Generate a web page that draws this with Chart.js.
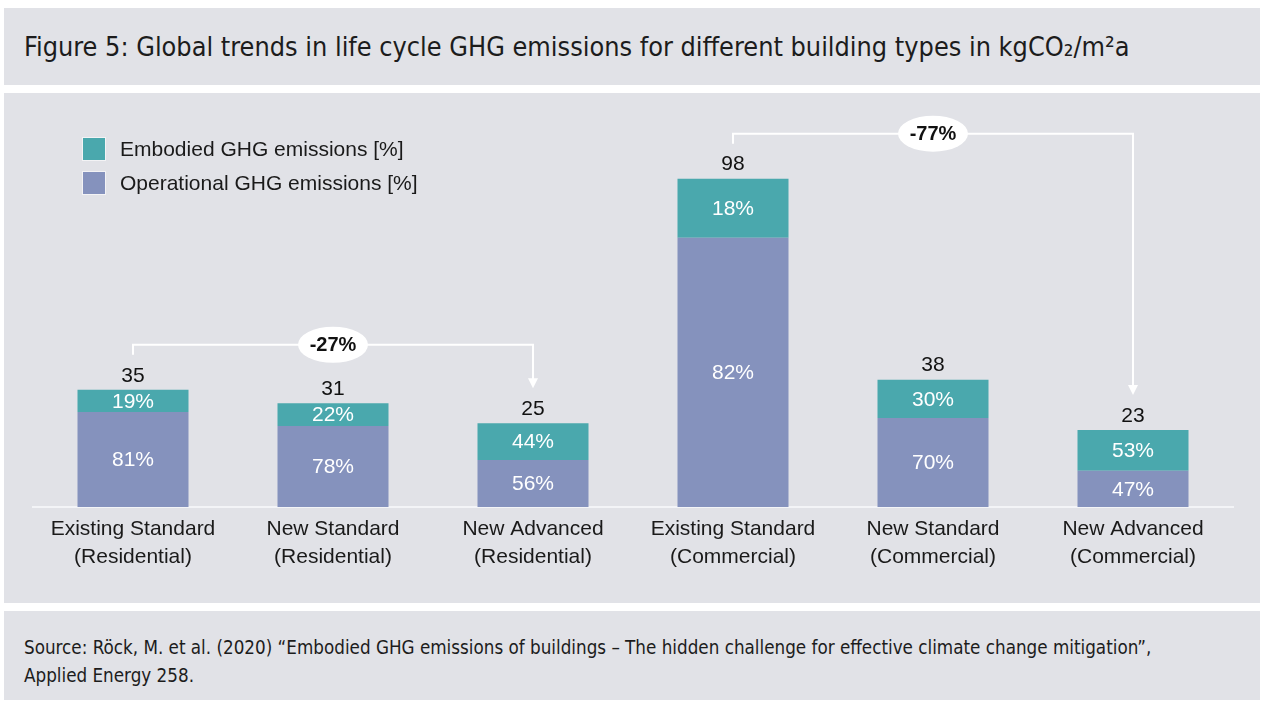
<!DOCTYPE html>
<html>
<head>
<meta charset="utf-8">
<script src="https://cdn.jsdelivr.net/npm/chart.js@4.4.1/dist/chart.umd.min.js"></script>
<style>
  html, body { margin: 0; padding: 0; background: #ffffff; }
  body { width: 1264px; height: 701px; overflow: hidden; position: relative; }
  .box { position: absolute; left: 4px; width: 1256px; background: #e1e2e7; }
  #titleBox { top: 8px; height: 77px; }
  #panel { top: 93px; height: 510px; }
  #sourceBox { top: 611px; height: 89px; }
  .cond { font-family: "Liberation Sans Narrow", "DejaVu Sans Condensed", "Liberation Sans", sans-serif; color: #1c1c1c; white-space: nowrap; }
  #title { position: absolute; left: 20px; top: 23px; margin: 0; font-weight: normal; font-size: 27px; line-height: 32px; }
  #source { position: absolute; left: 20px; top: 23px; font-size: 18px; line-height: 28px; }
  #chart { position: absolute; left: 0; top: 0; }
</style>
</head>
<body>
<div class="box" id="titleBox"><h1 id="title" class="cond">Figure 5: Global trends in life cycle GHG emissions for different building types in kgCO₂/m²a</h1></div>
<div class="box" id="panel"><canvas id="chart" width="1256" height="510"></canvas></div>
<div class="box" id="sourceBox"><div id="source" class="cond"><span id="src1">Source: Röck, M. et al. (2020) “Embodied GHG emissions of buildings – The hidden challenge for effective climate change mitigation”,</span><br>Applied Energy 258.</div></div>
<script>
// ---- data ----
const categories = [
  ['Existing Standard', '(Residential)'],
  ['New Standard', '(Residential)'],
  ['New Advanced', '(Residential)'],
  ['Existing Standard', '(Commercial)'],
  ['New Standard', '(Commercial)'],
  ['New Advanced', '(Commercial)']
];
const totals = [35, 31, 25, 98, 38, 23];
const embodiedPct = [19, 22, 44, 18, 30, 53];
const operationalPct = [81, 78, 56, 82, 70, 47];
const seriesNames = ['Embodied GHG emissions [%]', 'Operational GHG emissions [%]'];
const reductionLabels = ['-27%', '-77%'];
const reductionFrom = [0, 3];
const reductionTo = [2, 5];

// ---- styles ----
const TEAL = '#4aa8ad';
const PURPLE = '#8592bd';
const FONT = '"Liberation Sans", Arial, sans-serif';

const operationalValues = totals.map((t, i) => t * operationalPct[i] / 100);
const embodiedValues = totals.map((t, i) => t * embodiedPct[i] / 100);

function fitWidth(el, target) {
  const w = el.getBoundingClientRect().width;
  const fs = parseFloat(getComputedStyle(el).fontSize);
  el.style.fontSize = (fs * target / w) + 'px';
}
fitWidth(document.getElementById('title'), 1106);
(function () {
  const src = document.getElementById('source');
  const s1 = document.getElementById('src1');
  const w = s1.getBoundingClientRect().width;
  const fs = parseFloat(getComputedStyle(src).fontSize);
  src.style.fontSize = (fs * 1128 / w) + 'px';
})();

const overlay = {
  id: 'overlay',
  afterDatasetsDraw(chart) {
    const ctx = chart.ctx;
    const opMeta = chart.getDatasetMeta(0);
    const emMeta = chart.getDatasetMeta(1);
    const xs = chart.scales.x;
    ctx.save();
    ctx.textAlign = 'center';
    ctx.textBaseline = 'middle';
    ctx.font = '21px ' + FONT;
    // percentage labels
    ctx.fillStyle = '#ffffff';
    for (let i = 0; i < totals.length; i++) {
      const o = opMeta.data[i].getProps(['x', 'y', 'base'], true);
      ctx.fillText(operationalPct[i] + '%', o.x, (o.y + o.base) / 2 + 1);
      const e = emMeta.data[i].getProps(['x', 'y', 'base'], true);
      ctx.fillText(embodiedPct[i] + '%', e.x, (e.y + e.base) / 2 + 1);
    }
    // totals
    ctx.fillStyle = '#111111';
    for (let i = 0; i < totals.length; i++) {
      const e = emMeta.data[i].getProps(['x', 'y'], true);
      ctx.fillText(String(totals[i]), e.x, e.y - 14);
    }
    // legend
    const legendColors = [TEAL, PURPLE];
    ctx.textAlign = 'left';
    for (let k = 0; k < 2; k++) {
      const top = 45 + k * 34;
      ctx.fillStyle = legendColors[k];
      ctx.fillRect(79, top, 22, 22);
      ctx.strokeStyle = 'rgba(255,255,255,0.6)';
      ctx.lineWidth = 1;
      ctx.strokeRect(78.5, top - 0.5, 23, 23);
      ctx.fillStyle = '#1a1a1a';
      ctx.fillText(seriesNames[k], 116, top + 12);
    }
    // reduction brackets
    for (let k = 0; k < reductionLabels.length; k++) {
      const a = reductionFrom[k], b = reductionTo[k];
      const xa = xs.getPixelForValue(a), xb = xs.getPixelForValue(b);
      const ya = emMeta.data[a].y, yb = emMeta.data[b].y;
      const yLine = ya - 45;
      ctx.strokeStyle = '#ffffff';
      ctx.lineWidth = 2;
      ctx.beginPath();
      ctx.moveTo(xa, ya - 35);
      ctx.lineTo(xa, yLine);
      ctx.lineTo(xb, yLine);
      ctx.lineTo(xb, yb - 44);
      ctx.stroke();
      ctx.fillStyle = '#ffffff';
      ctx.beginPath();
      ctx.moveTo(xb - 5, yb - 45);
      ctx.lineTo(xb + 5, yb - 45);
      ctx.lineTo(xb, yb - 35);
      ctx.closePath();
      ctx.fill();
      const cx = (xa + xb) / 2;
      ctx.beginPath();
      ctx.ellipse(cx, yLine, 35, 18, 0, 0, Math.PI * 2);
      ctx.fill();
      ctx.fillStyle = '#111111';
      ctx.textAlign = 'center';
      ctx.font = 'bold 20px ' + FONT;
      ctx.fillText(reductionLabels[k], cx, yLine + 1);
      ctx.font = '21px ' + FONT;
      ctx.textAlign = 'left';
    }
    ctx.restore();
  }
};

new Chart(document.getElementById('chart'), {
  type: 'bar',
  data: {
    labels: categories,
    datasets: [
      { label: seriesNames[1], data: operationalValues, backgroundColor: PURPLE, borderWidth: 0 },
      { label: seriesNames[0], data: embodiedValues, backgroundColor: TEAL, borderWidth: 0 }
    ]
  },
  options: {
    responsive: false,
    animation: false,
    events: [],
    datasets: { bar: { barPercentage: 0.555, categoryPercentage: 1 } },
    layout: { padding: { left: 29, right: 27, top: 12, bottom: 0 } },
    plugins: { legend: { display: false }, tooltip: { enabled: false } },
    scales: {
      x: {
        stacked: true,
        grid: { display: false, drawTicks: false },
        border: { display: true, color: '#f3f4f7', width: 2 },
        ticks: { color: '#1a1a1a', font: { family: FONT, size: 21, lineHeight: 1.333 }, padding: 8, maxRotation: 0, autoSkip: false },
        afterFit: (s) => { s.height = 96; }
      },
      y: { stacked: true, display: false, min: 0, max: 120 }
    }
  },
  plugins: [overlay]
});
</script>
</body>
</html>
